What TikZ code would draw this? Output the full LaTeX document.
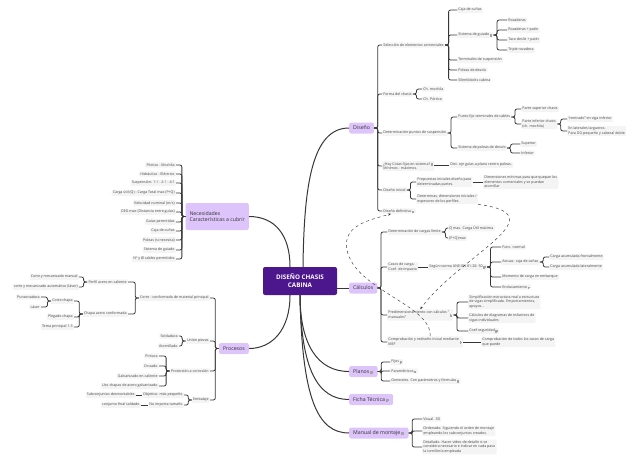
\documentclass[tikz,border=0pt]{standalone}
\usepackage{fontspec}
\setmainfont{Open Sans}
\usetikzlibrary{arrows.meta}
\definecolor{raizmorado}{RGB}{76,22,140}
\definecolor{lila}{RGB}{221,196,250}
\definecolor{grisfondo}{RGB}{244,244,244}
\definecolor{linea}{RGB}{55,55,55}
\definecolor{texto}{RGB}{70,70,70}
\newcommand{\nota}{\,\tikz[x=0.1em,y=0.1em,baseline=0pt]\draw[line width=0.2pt,black!35] (0,0.4)--(5,0.4) (0,2.4)--(6,2.4) (0,4.4)--(6,4.4) (0,0)--(0,5);}
\newcommand{\lineas}[1]{\begin{tabular}{@{}l@{}}#1\end{tabular}}

\begin{document}
\begin{tikzpicture}[x=1pt,y=-1pt,
  every node/.style={text=texto},
  raiz/.style={fill=raizmorado,text=white,rounded corners=2pt,align=center,
               font=\fontsize{6.3}{7.8}\selectfont\bfseries,minimum width=74pt,minimum height=28pt},
  tema/.style={fill=lila,rounded corners=2pt,text=black!80,align=left,
               font=\fontsize{5.2}{6.4}\selectfont,inner xsep=4pt,inner ysep=2.5pt,minimum height=11pt},
  hoja/.style={fill=grisfondo,rounded corners=1pt,align=left,
               font=\fontsize{3.6}{4.4}\selectfont,inner sep=1.2pt},
  der/.style={hoja,anchor=west},
  izq/.style={hoja,anchor=east},
  rama/.style={draw=linea,line width=0.8pt,rounded corners=2pt},
  tronco/.style={draw=linea,line width=1pt},
  enlace/.style={draw=linea,line width=0.45pt,dashed,-{Stealth[length=3pt,width=2.4pt]}}
]
  \useasboundingbox (0,0) rectangle (640,464);

  \node[raiz] (raiz) at (300,281) {DISEÑO CHASIS\\CABINA};
  \node[tema,anchor=west] (diseno) at (349,128) {Diseño};
  \node[tema,anchor=west] (calc) at (349,288) {Cálculos};
  \node[tema,anchor=west] (planos) at (349,371.5) {Planos\nota};
  \node[tema,anchor=west] (ficha) at (349,399.5) {Ficha Técnica\nota};
  \node[tema,anchor=west] (manual) at (349,433) {Manual de montaje\nota};
  \node[tema,anchor=east,minimum height=27pt] (nec) at (249,216.5) {Necesidades\\Características a cubrir};
  \node[tema,anchor=east] (proc) at (249,348.5) {Procesos};

  \draw[tronco] ([xshift=3pt]raiz.north) .. controls (304,185) and (312,128) .. (diseno.west);
  \draw[tronco] (nec.east) .. controls (275,216.5) and (290,235) .. ([xshift=-10pt]raiz.north);
  \draw[tronco] (calc.west -| raiz.east) -- (calc.west);
  \draw[tronco] ([xshift=-10pt]raiz.south) .. controls (290,330) and (272,348.5) .. (proc.east);
  \draw[tronco] (raiz.south) .. controls (300,345) and (318,371.5) .. (planos.west);
  \draw[tronco] (raiz.south) .. controls (301,370) and (318,399.5) .. (ficha.west);
  \draw[tronco] (raiz.south) .. controls (302,400) and (318,433) .. (manual.west);

  \node[der] (sel) at (382,45) {Selección de elementos comerciales};
  \node[der] (forma) at (382,94) {Forma del chasis};
  \node[der] (puntos) at (382,133) {Determinación puntos de suspensión};
  \node[der] (cotas) at (382,166) {¿Hay Cotas fijas en sistema?\nota\\Mínimos - máximos.};
  \node[der] (inicial) at (382,190) {Diseño inicial};
  \node[der] (defin) at (382,211) {Diseño definitivo\nota};
  \foreach \h in {sel,forma,puntos,cotas,inicial,defin}
    \draw[rama] (diseno.east) -- ++(3.5,0) |- (\h.west);

  \node[der] (caja) at (457,10) {Caja de cuñas};
  \node[der] (guiado) at (457,35) {Sistema de guiado\nota};
  \node[der] (termin) at (457,60) {Terminales de suspensión};
  \node[der] (poleas) at (457,70) {Poleas de desvío};
  \node[der] (silent) at (457,80) {Silentblocks cabina};
  \foreach \h in {caja,guiado,termin,poleas,silent}
    \draw[rama] (sel.east) -- ++(3.5,0) |- (\h.west);

  \node[der] (roz) at (507,20) {Rozaderas};
  \node[der] (rozpat) at (507,30) {Rozaderas + patín};
  \node[der] (taco) at (507,40) {Taco desliz + patín};
  \node[der] (triple) at (507,50) {Triple rozadera};
  \foreach \h in {roz,rozpat,taco,triple}
    \draw[rama] (guiado.east) -- ++(3.5,0) |- (\h.west);

  \node[der] (mochila) at (422,89) {Ch. mochila};
  \node[der] (portico) at (422,99) {Ch. Pórtico};
  \foreach \h in {mochila,portico}
    \draw[rama] (forma.east) -- ++(3.5,0) |- (\h.west);

  \node[der] (fijo) at (457,117) {Punto fijo terminales de cables};
  \node[der] (sistpol) at (457,148) {Sistema de poleas de desvío};
  \foreach \h in {fijo,sistpol}
    \draw[rama] (puntos.east) -- ++(3.5,0) |- (\h.west);

  \node[der] (psup) at (521,109) {Parte superior chasis};
  \node[der] (pinf) at (521,124) {Parte inferior chasis\\ (ch. mochila)};
  \foreach \h in {psup,pinf}
    \draw[rama] (fijo.east) -- ++(3.5,0) |- (\h.west);

  \node[der] (centrado) at (567,119) {“centrado” en viga inferior};
  \node[der] (laterales) at (567,131) {En laterales largueros.\\Para DG pequeño y cabezal doble};
  \foreach \h in {centrado,laterales}
    \draw[rama] (pinf.east) -- ++(3.5,0) |- (\h.west);

  \node[der] (superior) at (520,144) {Superior};
  \node[der] (inferior) at (520,153) {Inferior};
  \foreach \h in {superior,inferior}
    \draw[rama] (sistpol.east) -- ++(3.5,0) |- (\h.west);

  \node[der] (dist) at (449,165) {Dist. eje guías a plano centro poleas.};
  \draw[rama] (cotas.east |- dist.west) -- (dist.west);

  \node[der] (prop) at (416,182) {Propuestas iniciales diseño para\\determinadas partes.};
  \node[der] (dimin) at (416,199) {Determinas, dimensiones iniciales /\\espesores de los perfiles.};
  \foreach \h in {prop,dimin}
    \draw[rama] (inicial.east) -- ++(3.5,0) |- (\h.west);

  \node[der] (minimas) at (483,182) {Dimensiones mínimas para que quepan los\\elementos comerciales y se puedan\\atornillar};
  \draw[rama] (prop.east) -- (minimas.west);

  \node[der] (cargas) at (387,232) {Determinación de cargas límite};
  \node[der] (casos) at (387,267) {Casos de carga.\\Coef. de impacto};
  \node[der] (predim) at (387,315) {\lineas{Predimensionamiento con cálculos "\\manuales"}\nota};
  \node[der] (compr) at (387,342) {\lineas{Comprobación y rediseño inicial mediante\\MEF}\nota};
  \foreach \h in {cargas,casos,predim,compr}
    \draw[rama] (calc.east) -- ++(3.5,0) |- (\h.west);

  \node[der] (qmax) at (448,228) {Q max. Carga Útil máxima};
  \node[der] (pq) at (448,238) {(P+Q)max};
  \foreach \h in {qmax,pq}
    \draw[rama] (cargas.east) -- ++(3.5,0) |- (\h.west);

  \node[der] (norma) at (428,267) {Según norma UNE-EN 81-20: 50\nota};
  \draw[rama] (casos.east |- norma.west) -- (norma.west);

  \node[der] (func) at (501,247) {Func. normal};
  \node[der] (actuac) at (501,262) {Actuac. caja de cuñas};
  \node[der] (momento) at (501,277) {Momento de carga en embarque};
  \node[der] (enclav) at (501,287) {Enclavamiento\nota};
  \foreach \h in {func,actuac,momento,enclav}
    \draw[rama] (norma.east) -- ++(3.5,0) |- (\h.west);

  \node[der] (frontal) at (549,257) {Carga acumulada frontalmente};
  \node[der] (lateral) at (549,267) {Carga acumulada lateralmente};
  \foreach \h in {frontal,lateral}
    \draw[rama] (actuac.east) -- ++(3.5,0) |- (\h.west);

  \node[der] (simpl) at (468,302) {Simplificación estructura real a estructura\\de vigas simplificada. Empotramientos,\\apoyos...};
  \node[der] (diagr) at (468,318) {Cálculos de diagramas de esfuerzos de\\vigas individuales};
  \node[der] (coef) at (468,331) {Coef seguridad\nota};
  \foreach \h in {simpl,diagr,coef}
    \draw[rama] (predim.east) -- ++(3.5,0) |- (\h.west);

  \node[der] (todos) at (481,342) {Comprobación de todos los casos de carga\\que puede};
  \draw[rama] (compr.east |- todos.west) -- (todos.west);

  \draw[enlace] (dimin.south east) .. controls (560,215) and (460,255) .. (predim.north);
  \draw[enlace] ([xshift=5pt]compr.north) .. controls (432,305) and (355,290) .. (347,250)
    .. controls (342,225) and (370,220) .. ([xshift=-8pt]defin.south);

  \node[der] (fijos) at (390,362) {Fijos\nota};
  \node[der] (param) at (390,371) {Paramétricos\nota};
  \node[der] (gener) at (390,381) {Generales. Con parámetros y fórmulas\nota};
  \foreach \h in {fijos,param,gener}
    \draw[rama] (planos.east) -- ++(3.5,0) |- (\h.west);

  \node[der] (visual) at (422,419) {Visual. 3D};
  \node[der] (ordenado) at (422,431) {Ordenado. Siguiendo el orden de montaje\\empleando los subconjuntos creados.};
  \node[der] (detallado) at (422,447) {Detallado. Hacer vídeo de detalle si se\\considera necesario e indicar en cada paso\\la tornillería empleada};
  \foreach \h in {visual,ordenado,detallado}
    \draw[rama] (manual.east) -- ++(3.5,0) |- (\h.west);

  \foreach \t/\y [count=\i] in {Pórtico - Mochila/165, Hidráulico - Eléctrico/174,
      Suspensión: 1:1 - 2:1 - 4:1/183, Carga útil (Q) - Carga Total max (P+Q)/193,
      {Velocidad nominal (m/s)}/203, DEG max (Distancia entre guías)/212,
      Guías permitidas/222, Caja de cuñas/231, Poleas (si necesita)/240,
      Sistema de guiado/250, Nº y Ø cables permitidos/259}
    \node[izq] (nec\i) at (176,\y) {\t};
  \foreach \i in {1,...,11}
    \draw[rama] (nec.west) -- ++(-3.5,0) |- (nec\i.east);

  \node[izq] (corte) at (210,298) {Corte - conformado de material principal};
  \node[izq] (union) at (210,341) {Unión piezas};
  \node[izq] (proteccion) at (210,371) {Protección a corrosión};
  \node[izq] (embalaje) at (210,400) {Embalaje};
  \foreach \h in {corte,union,proteccion,embalaje}
    \draw[rama] (proc.west) -- ++(-3.5,0) |- (\h.east);

  \node[izq] (perfil) at (128,282) {Perfil acero en caliente};
  \node[izq] (chapa) at (128,314) {Chapa acero conformada};
  \foreach \h in {perfil,chapa}
    \draw[rama] (corte.west) -- ++(-3.5,0) |- (\h.east);

  \node[izq] (cmanual) at (79,277) {Corte y mecanizado manual};
  \node[izq] (cauto) at (79,287) {corte y mecanizado automático (láser)};
  \foreach \h in {cmanual,cauto}
    \draw[rama] (perfil.west) -- ++(-3.5,0) |- (\h.east);

  \node[izq] (cortech) at (74,301) {Corte chapa};
  \node[izq] (plegado) at (74,317) {Plegado chapa};
  \node[izq] (tema13) at (74,327) {Tema principal 1.3};
  \foreach \h in {cortech,plegado,tema13}
    \draw[rama] (chapa.west) -- ++(-3.5,0) |- (\h.east);

  \node[izq] (punz) at (41,297) {Punzonadora};
  \node[izq] (laser) at (41,307) {Láser};
  \foreach \h in {punz,laser}
    \draw[rama] (cortech.west) -- ++(-3.5,0) |- (\h.east);

  \node[izq] (soldadura) at (179,336) {Soldadura};
  \node[izq] (atorn) at (179,346) {Atornillado};
  \foreach \h in {soldadura,atorn}
    \draw[rama] (union.west) -- ++(-3.5,0) |- (\h.east);

  \node[izq] (pintura) at (159,356) {Pintura};
  \node[izq] (cincado) at (159,366) {Cincado};
  \node[izq] (galv) at (159,376) {Galvanizado en caliente};
  \node[izq] (chgalv) at (159,386) {Uso chapas de acero galvanizado};
  \foreach \h in {pintura,cincado,galv,chgalv}
    \draw[rama] (proteccion.west) -- ++(-3.5,0) |- (\h.east);

  \node[izq] (objetivo) at (184,395) {Objetivo: más pequeño};
  \node[izq] (noimporta) at (184,405) {No importa tamaño};
  \foreach \h in {objetivo,noimporta}
    \draw[rama] (embalaje.west) -- ++(-3.5,0) |- (\h.east);

  \node[izq] (subconj) at (136,395) {Subconjuntos desmontables};
  \node[izq] (cfinal) at (141,405) {conjunto final soldado};
  \draw[rama] (objetivo.west) -- (subconj.east);
  \draw[rama] (noimporta.west) -- (cfinal.east);
\end{tikzpicture}
\end{document}
